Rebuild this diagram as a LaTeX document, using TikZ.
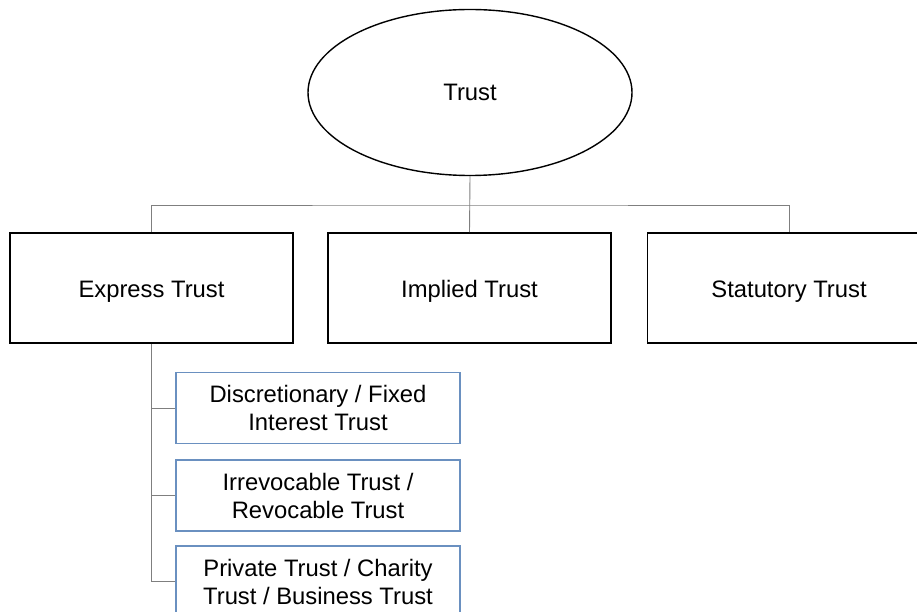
\documentclass[tikz,border=0pt]{standalone}
\usepackage{fontspec}
\setmainfont{Liberation Sans}
\usetikzlibrary{shapes.geometric}
\definecolor{linkgray}{HTML}{7F7F7F}
\definecolor{subblue}{HTML}{6A90C0}
\begin{document}
\begin{tikzpicture}[x=1pt,y=-1pt,
  rootnode/.style={ellipse,draw=black,line width=1.4pt,minimum width=324pt,minimum height=166pt,inner sep=0pt,
    font=\fontsize{23.8}{27.4}\selectfont},
  typebox/.style={rectangle,draw=black,line width=1.8pt,minimum width=283pt,minimum height=110pt,inner sep=0pt,
    text height=24pt,text depth=5pt,font=\fontsize{23.8}{27.4}\selectfont},
  kindbox/.style={rectangle,draw=subblue,line width=1.2pt,minimum width=284pt,minimum height=71pt,inner sep=0pt,
    align=center,font=\fontsize{23.8}{28}\selectfont},
  link/.style={draw=linkgray,line width=0.9pt}]
\useasboundingbox (0,0) rectangle (917,612);
\clip (0,0) rectangle (917,612);

% root
\node[rootnode] (root) at (470,92.5) {Trust};

% main kinds of trust
\node[typebox] (express) at (151.5,288) {Express Trust};
\node[typebox] (implied) at (469.5,288) {Implied Trust};
\node[typebox] (statutory) at (789,288) {Statutory Trust};

% sub-types of express trust
\node[kindbox] (disc) at (318,408) {Discretionary / Fixed\\Interest Trust};
\node[kindbox] (irrev) at (318,495.5) {Irrevocable Trust /\\Revocable Trust};
\node[kindbox] (priv) at (318,581.5) {Private Trust / Charity\\Trust / Business Trust};

% connectors from the root
\coordinate (bus) at (470,205);
\draw[link] (root.south) -- (implied.north);
\draw[link] (express.north) |- (bus) -| (statutory.north);

% connectors to the sub-types
\draw[link] (express.south) |- (priv.west);
\draw[link] (express.south |- disc.west) -- (disc.west);
\draw[link] (express.south |- irrev.west) -- (irrev.west);
\end{tikzpicture}
\end{document}
